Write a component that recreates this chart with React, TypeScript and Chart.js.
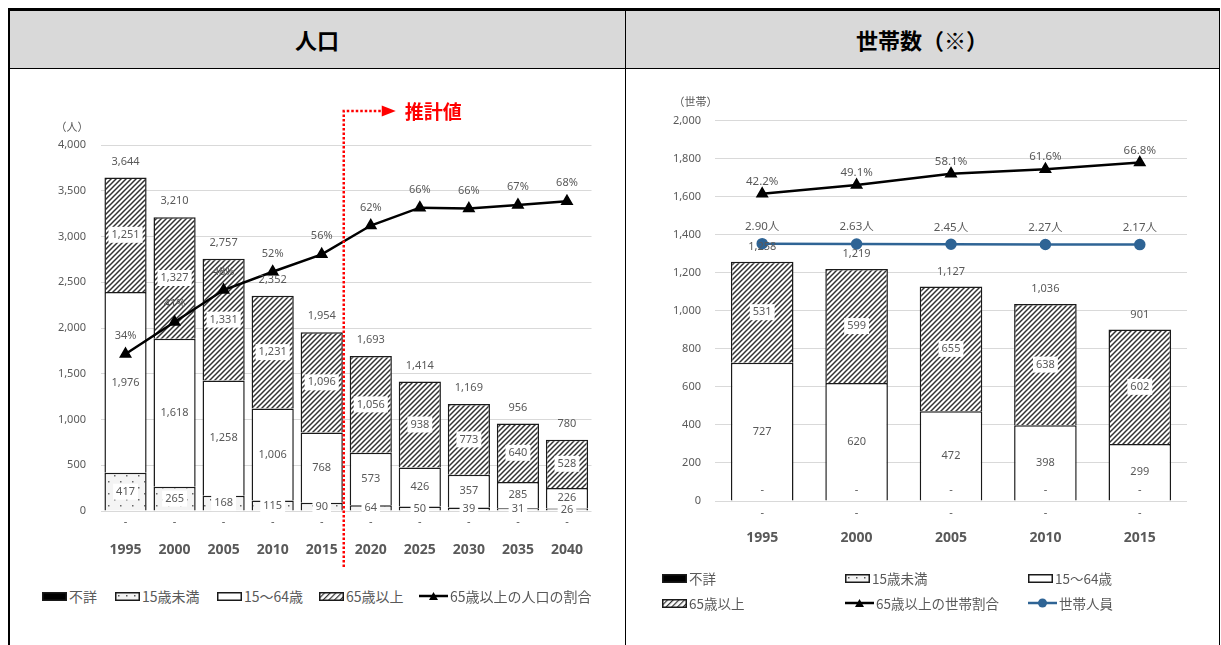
import React, { useEffect, useRef } from 'react';
import { Chart, registerables } from 'chart.js';

Chart.register(...registerables);

const FONT = "'Noto Sans', 'Noto Sans CJK JP', sans-serif";
const JP = "'Noto Sans CJK JP', 'Noto Sans', sans-serif";
const GRAY = '#595959';

// ---------- 人口 ----------
const popYears = ['1995', '2000', '2005', '2010', '2015', '2020', '2025', '2030', '2035', '2040'];
const popUnknown = [0, 0, 0, 0, 0, 0, 0, 0, 0, 0];
const popUnder15 = [417, 265, 168, 115, 90, 64, 50, 39, 31, 26];
const pop15to64 = [1976, 1618, 1258, 1006, 768, 573, 426, 357, 285, 226];
const pop65plus = [1251, 1327, 1331, 1231, 1096, 1056, 938, 773, 640, 528];
const pop65ratio = [34.3, 41.3, 48.3, 52.3, 56.1, 62.4, 66.3, 66.1, 66.9, 67.7];
const popAxisMax = 4000;
const popAxisStep = 500;

// ---------- 世帯数 ----------
const hhYears = ['1995', '2000', '2005', '2010', '2015'];
const hhUnknown = [0, 0, 0, 0, 0];
const hhUnder15 = [0, 0, 0, 0, 0];
const hh15to64 = [727, 620, 472, 398, 299];
const hh65plus = [531, 599, 655, 638, 602];
const hh65ratio = [42.2, 49.1, 58.1, 61.6, 66.8];
const hhPersons = [2.9, 2.63, 2.45, 2.27, 2.17];
const hhAxisMax = 2000;
const hhAxisStep = 200;

const fmtNum = (v: number) => v.toLocaleString('en-US');

function makeHatch(size: number, lw: number): CanvasPattern {
  const c = document.createElement('canvas');
  c.width = size;
  c.height = size;
  const g = c.getContext('2d')!;
  g.fillStyle = '#ffffff';
  g.fillRect(0, 0, size, size);
  g.strokeStyle = '#333333';
  g.lineWidth = lw;
  g.beginPath();
  g.moveTo(-1, 1);
  g.lineTo(1, -1);
  g.moveTo(0, size);
  g.lineTo(size, 0);
  g.moveTo(size - 1, size + 1);
  g.lineTo(size + 1, size - 1);
  g.stroke();
  return g.createPattern(c, 'repeat')!;
}

function makeDots(): CanvasPattern {
  const c = document.createElement('canvas');
  c.width = 12;
  c.height = 12;
  const g = c.getContext('2d')!;
  g.fillStyle = '#f4f4f4';
  g.fillRect(0, 0, 12, 12);
  g.fillStyle = '#666666';
  g.fillRect(2, 3, 1.5, 1.5);
  g.fillRect(8, 9, 1.5, 1.5);
  return g.createPattern(c, 'repeat')!;
}

function drawLabel(ctx: CanvasRenderingContext2D, text: string, x: number, y: number, box: boolean, font: string) {
  ctx.save();
  ctx.font = font;
  ctx.textAlign = 'center';
  ctx.textBaseline = 'middle';
  if (box) {
    const w = ctx.measureText(text).width + 6;
    ctx.fillStyle = '#ffffff';
    ctx.fillRect(x - w / 2, y - 8, w, 16);
  }
  ctx.fillStyle = GRAY;
  ctx.fillText(text, x, y);
  ctx.restore();
}

const labelPlugin = {
  id: 'dataLabels',
  afterDatasetsDraw(chart: any) {
    const ctx = chart.ctx;
    chart.data.datasets.forEach((ds: any, i: number) => {
      if (!ds.dl) return;
      const meta = chart.getDatasetMeta(i);
      ds.dl.forEach((cfg: any) => {
        meta.data.forEach((el: any, j: number) => {
          const v = ds.data[j];
          const text = cfg.fmt(v, j);
          const p = el.getProps(['x', 'y', 'base'], true);
          let y = p.y;
          if (cfg.pos === 'center') y = (p.y + p.base) / 2;
          else if (cfg.pos === 'base') y = p.base + cfg.offset;
          else if (cfg.pos === 'above') y = p.y - cfg.offset;
          drawLabel(ctx, text, p.x, y, !!cfg.box, `${cfg.size || 11}px ${FONT}`);
        });
      });
    });
  },
};

const axisTitlePlugin = {
  id: 'axisTitle',
  afterDraw(chart: any, _a: any, opts: any) {
    if (!opts || !opts.text) return;
    const ctx = chart.ctx;
    ctx.save();
    ctx.font = `11px ${JP}`;
    ctx.fillStyle = GRAY;
    ctx.textAlign = 'center';
    ctx.textBaseline = 'middle';
    ctx.fillText(opts.text, opts.x, chart.chartArea.top + opts.dy);
    ctx.restore();
  },
};

const estimatePlugin = {
  id: 'estimate',
  afterDraw(chart: any, _a: any, opts: any) {
    if (!opts || !opts.enabled) return;
    const ctx = chart.ctx;
    const xs = chart.scales.x;
    const x = (xs.getPixelForValue(4) + xs.getPixelForValue(5)) / 2 - 2.5;
    const top = chart.chartArea.top - 34;
    const bottom = chart.chartArea.bottom + 56;
    ctx.save();
    ctx.strokeStyle = '#ff0000';
    ctx.fillStyle = '#ff0000';
    ctx.lineWidth = 2.5;
    ctx.setLineDash([2.5, 2]);
    ctx.beginPath();
    ctx.moveTo(x, bottom);
    ctx.lineTo(x, top);
    ctx.lineTo(x + 38, top);
    ctx.stroke();
    ctx.setLineDash([]);
    ctx.beginPath();
    ctx.moveTo(x + 38, top - 5.5);
    ctx.lineTo(x + 52, top);
    ctx.lineTo(x + 38, top + 5.5);
    ctx.closePath();
    ctx.fill();
    ctx.font = `bold 19px ${JP}`;
    ctx.textAlign = 'left';
    ctx.textBaseline = 'middle';
    ctx.fillText('推計値', x + 61, top + 1);
    ctx.restore();
  },
};

function PopChart() {
  const ref = useRef<HTMLCanvasElement>(null);
  useEffect(() => {
    const hatch = makeHatch(5, 1.5);
    const dots = makeDots();
    const totals = popYears.map((_, i) => popUnknown[i] + popUnder15[i] + pop15to64[i] + pop65plus[i]);
    const chart = new Chart(ref.current!, {
      type: 'bar',
      data: {
        labels: popYears,
        datasets: [
          { label: '不詳', data: popUnknown, backgroundColor: '#000000', borderWidth: 0, stack: 's', order: 1,
            dl: [{ pos: 'base', offset: 11, fmt: () => '-' }] } as any,
          { label: '15歳未満', data: popUnder15, backgroundColor: dots, borderColor: '#1a1a1a', borderWidth: 1.5, stack: 's', order: 1,
            dl: [{ pos: 'center', box: true, fmt: (v: number) => fmtNum(v) }] } as any,
          { label: '15～64歳', data: pop15to64, backgroundColor: '#ffffff', borderColor: '#1a1a1a', borderWidth: 1.5, stack: 's', order: 1,
            dl: [{ pos: 'center', box: false, fmt: (v: number) => fmtNum(v) }] } as any,
          { label: '65歳以上', data: pop65plus, backgroundColor: hatch, borderColor: '#1a1a1a', borderWidth: 1.5, stack: 's', order: 1,
            dl: [{ pos: 'center', box: true, fmt: (v: number) => fmtNum(v) },
                 { pos: 'above', offset: 16, fmt: (_v: number, j: number) => fmtNum(totals[j]) }] } as any,
          { type: 'line', label: '65歳以上の人口の割合', data: pop65ratio, yAxisID: 'y1', order: 0,
            borderColor: '#000000', borderWidth: 2.5, pointStyle: 'triangle', pointRadius: 5,
            pointBackgroundColor: '#000000', pointBorderColor: '#000000',
            dl: [{ pos: 'above', offset: 18, fmt: (v: number) => Math.round(v) + '%' }] } as any,
        ],
      },
      options: {
        responsive: false,
        animation: false,
        devicePixelRatio: 1,
        layout: { padding: { left: 0, right: 32.5, top: 75, bottom: 0 } },
        datasets: { bar: { categoryPercentage: 1, barPercentage: 0.86 } },
        scales: {
          x: {
            stacked: true,
            grid: { display: false },
            border: { display: false },
            ticks: { color: GRAY, font: { family: FONT, size: 14, weight: 'bold' }, padding: 23 },
            afterFit: (s: any) => { s.height = 59; },
          },
          y: {
            stacked: true,
            min: 0,
            max: popAxisMax,
            ticks: { stepSize: popAxisStep, color: GRAY, font: { family: FONT, size: 11 }, padding: 15,
              callback: (v: any) => fmtNum(Number(v)) },
            grid: { color: '#d9d9d9', drawTicks: false },
            border: { display: false },
            afterFit: (s: any) => { s.width = 91; },
          },
          y1: { display: false, min: 0, max: 80 },
        },
        plugins: {
          legend: { display: false },
          tooltip: { enabled: false },
          axisTitle: { text: '（人）', x: 62, dy: -18 },
          estimate: { enabled: true },
        } as any,
      } as any,
      plugins: [labelPlugin, axisTitlePlugin, estimatePlugin],
    });
    return () => chart.destroy();
  }, []);
  return <canvas ref={ref} width={614} height={500} style={{ position: 'absolute', left: 10, top: 70 }} />;
}

function HouseholdChart() {
  const ref = useRef<HTMLCanvasElement>(null);
  useEffect(() => {
    const hatch = makeHatch(5, 1.5);
    const dots = makeDots();
    const totals = hhYears.map((_, i) => hhUnknown[i] + hhUnder15[i] + hh15to64[i] + hh65plus[i]);
    const chart = new Chart(ref.current!, {
      type: 'bar',
      data: {
        labels: hhYears,
        datasets: [
          { label: '不詳', data: hhUnknown, backgroundColor: '#000000', borderWidth: 0, stack: 's', order: 1,
            dl: [{ pos: 'base', offset: 12, fmt: () => '-' }] } as any,
          { label: '15歳未満', data: hhUnder15, backgroundColor: dots, borderWidth: 0, stack: 's', order: 1,
            dl: [{ pos: 'base', offset: -11, fmt: () => '-' }] } as any,
          { label: '15～64歳', data: hh15to64, backgroundColor: '#ffffff', borderColor: '#1a1a1a', borderWidth: 1.5, stack: 's', order: 1,
            dl: [{ pos: 'center', box: false, fmt: (v: number) => fmtNum(v) }] } as any,
          { label: '65歳以上', data: hh65plus, backgroundColor: hatch, borderColor: '#1a1a1a', borderWidth: 1.5, stack: 's', order: 1,
            dl: [{ pos: 'center', box: true, fmt: (v: number) => fmtNum(v) },
                 { pos: 'above', offset: 15, fmt: (_v: number, j: number) => fmtNum(totals[j]) }] } as any,
          { type: 'line', label: '65歳以上の世帯割合', data: hh65ratio, yAxisID: 'y1', order: 0,
            borderColor: '#000000', borderWidth: 2.5, pointStyle: 'triangle', pointRadius: 5,
            pointBackgroundColor: '#000000', pointBorderColor: '#000000',
            dl: [{ pos: 'above', offset: 12, size: 11.5, fmt: (v: number) => v.toFixed(1) + '%' }] } as any,
          { type: 'line', label: '世帯人員', data: hhPersons, yAxisID: 'y1', order: 0,
            borderColor: '#2F6495', borderWidth: 2.5, pointStyle: 'circle', pointRadius: 4.5,
            pointBackgroundColor: '#2F6495', pointBorderColor: '#2F6495',
            dl: [{ pos: 'above', offset: 17, size: 11.5, fmt: (v: number) => v.toFixed(2) + '人' }] } as any,
        ],
      },
      options: {
        responsive: false,
        animation: false,
        devicePixelRatio: 1,
        layout: { padding: { left: 0, right: 32, top: 50.5, bottom: 0 } },
        datasets: { bar: { categoryPercentage: 1, barPercentage: 0.663 } },
        scales: {
          x: {
            stacked: true,
            grid: { display: false },
            border: { display: false },
            ticks: { color: GRAY, font: { family: FONT, size: 14, weight: 'bold' }, padding: 21 },
            afterFit: (s: any) => { s.height = 69; },
          },
          y: {
            stacked: true,
            min: 0,
            max: hhAxisMax,
            ticks: { stepSize: hhAxisStep, color: GRAY, font: { family: FONT, size: 11 }, padding: 14,
              callback: (v: any) => fmtNum(Number(v)) },
            grid: { color: '#d9d9d9', drawTicks: false },
            border: { display: false },
            afterFit: (s: any) => { s.width = 88; },
          },
          y1: { display: false, min: -200, max: 100 },
        },
        plugins: {
          legend: { display: false },
          tooltip: { enabled: false },
          axisTitle: { text: '（世帯）', x: 68.5, dy: -18.5 },
          estimate: { enabled: false },
        } as any,
      } as any,
      plugins: [labelPlugin, axisTitlePlugin, estimatePlugin],
    });
    return () => chart.destroy();
  }, []);
  return <canvas ref={ref} width={592} height={500} style={{ position: 'absolute', left: 627, top: 70 }} />;
}

type Kind = 'black' | 'dots' | 'white' | 'hatch' | 'triLine' | 'dotLine';

function Symbol({ kind, id }: { kind: Kind; id: string }) {
  const w = 25, h = 9;
  if (kind === 'triLine' || kind === 'dotLine') {
    const col = kind === 'triLine' ? '#000000' : '#2F6495';
    return (
      <svg width={29} height={12} style={{ display: 'block' }}>
        <line x1={0} y1={6} x2={29} y2={6} stroke={col} strokeWidth={2.5} />
        {kind === 'triLine'
          ? <polygon points="10,10 14.5,2 19,10" fill={col} />
          : <circle cx={14.5} cy={6} r={4.5} fill={col} />}
      </svg>
    );
  }
  let fill = '#ffffff';
  if (kind === 'black') fill = '#000000';
  if (kind === 'dots') fill = `url(#${id})`;
  if (kind === 'hatch') fill = `url(#${id})`;
  return (
    <svg width={w} height={h} style={{ display: 'block' }}>
      <defs>
        {kind === 'hatch' && (
          <pattern id={id} width={4} height={4} patternUnits="userSpaceOnUse" patternTransform="rotate(45)">
            <rect width={4} height={4} fill="#ffffff" />
            <line x1={0} y1={0} x2={0} y2={4} stroke="#333333" strokeWidth={2.4} />
          </pattern>
        )}
        {kind === 'dots' && (
          <pattern id={id} width={8} height={6} patternUnits="userSpaceOnUse">
            <rect width={8} height={6} fill="#f4f4f4" />
            <rect x={3} y={3} width={1.5} height={1.5} fill="#555555" />
          </pattern>
        )}
      </defs>
      <rect x={0.75} y={0.75} width={w - 1.5} height={h - 1.5} fill={fill} stroke="#1a1a1a" strokeWidth={1.5} />
    </svg>
  );
}

type LegendItem = { x: number; y: number; kind: Kind; text: string };

const leftLegend: LegendItem[] = [
  { x: 42, y: 596, kind: 'black', text: '不詳' },
  { x: 115, y: 596, kind: 'dots', text: '15歳未満' },
  { x: 217, y: 596, kind: 'white', text: '15～64歳' },
  { x: 319, y: 596, kind: 'hatch', text: '65歳以上' },
  { x: 419, y: 596, kind: 'triLine', text: '65歳以上の人口の割合' },
];

const rightLegend: LegendItem[] = [
  { x: 662, y: 578, kind: 'black', text: '不詳' },
  { x: 845, y: 578, kind: 'dots', text: '15歳未満' },
  { x: 1028, y: 578, kind: 'white', text: '15～64歳' },
  { x: 662, y: 603, kind: 'hatch', text: '65歳以上' },
  { x: 845, y: 603, kind: 'triLine', text: '65歳以上の世帯割合' },
  { x: 1028, y: 603, kind: 'dotLine', text: '世帯人員' },
];

function Legend({ items, prefix, size }: { items: LegendItem[]; prefix: string; size: number }) {
  return (
    <>
      {items.map((it, i) => (
        <div key={i} style={{ position: 'absolute', left: it.x, top: it.y - 10, height: 20, display: 'flex', alignItems: 'center', whiteSpace: 'nowrap' }}>
          <Symbol kind={it.kind} id={`${prefix}-${i}`} />
          <span style={{ marginLeft: 2, fontSize: size, color: GRAY, fontFamily: JP, lineHeight: '20px' }}>{it.text}</span>
        </div>
      ))}
    </>
  );
}

export default function App() {
  const line = (style: React.CSSProperties) => <div style={{ position: 'absolute', background: '#000000', ...style }} />;
  return (
    <div style={{ position: 'absolute', left: 0, top: 0, width: 1221, height: 645, overflow: 'hidden', background: '#ffffff', fontFamily: JP }}>
      <div style={{ position: 'absolute', left: 9, top: 10, width: 1210, height: 58, background: '#d9d9d9' }} />
      <div style={{ position: 'absolute', left: 10, top: 10, width: 614, height: 58, display: 'flex', alignItems: 'center', justifyContent: 'center', fontWeight: 'bold', fontSize: 22, color: '#000' }}>人口</div>
      <div style={{ position: 'absolute', left: 626, top: 10, width: 592, height: 58, display: 'flex', alignItems: 'center', justifyContent: 'center', fontWeight: 'bold', fontSize: 22, color: '#000' }}>世帯数（※）</div>
      {line({ left: 8, top: 8, width: 1212, height: 2.5 })}
      {line({ left: 8, top: 67.5, width: 1212, height: 1.5 })}
      {line({ left: 8, top: 8, width: 1.5, height: 640 })}
      {line({ left: 624.5, top: 8, width: 1.5, height: 640 })}
      {line({ left: 1218.5, top: 8, width: 1.5, height: 640 })}
      <PopChart />
      <HouseholdChart />
      <Legend items={leftLegend} prefix="lg" size={14} />
      <Legend items={rightLegend} prefix="rg" size={13.5} />
    </div>
  );
}
